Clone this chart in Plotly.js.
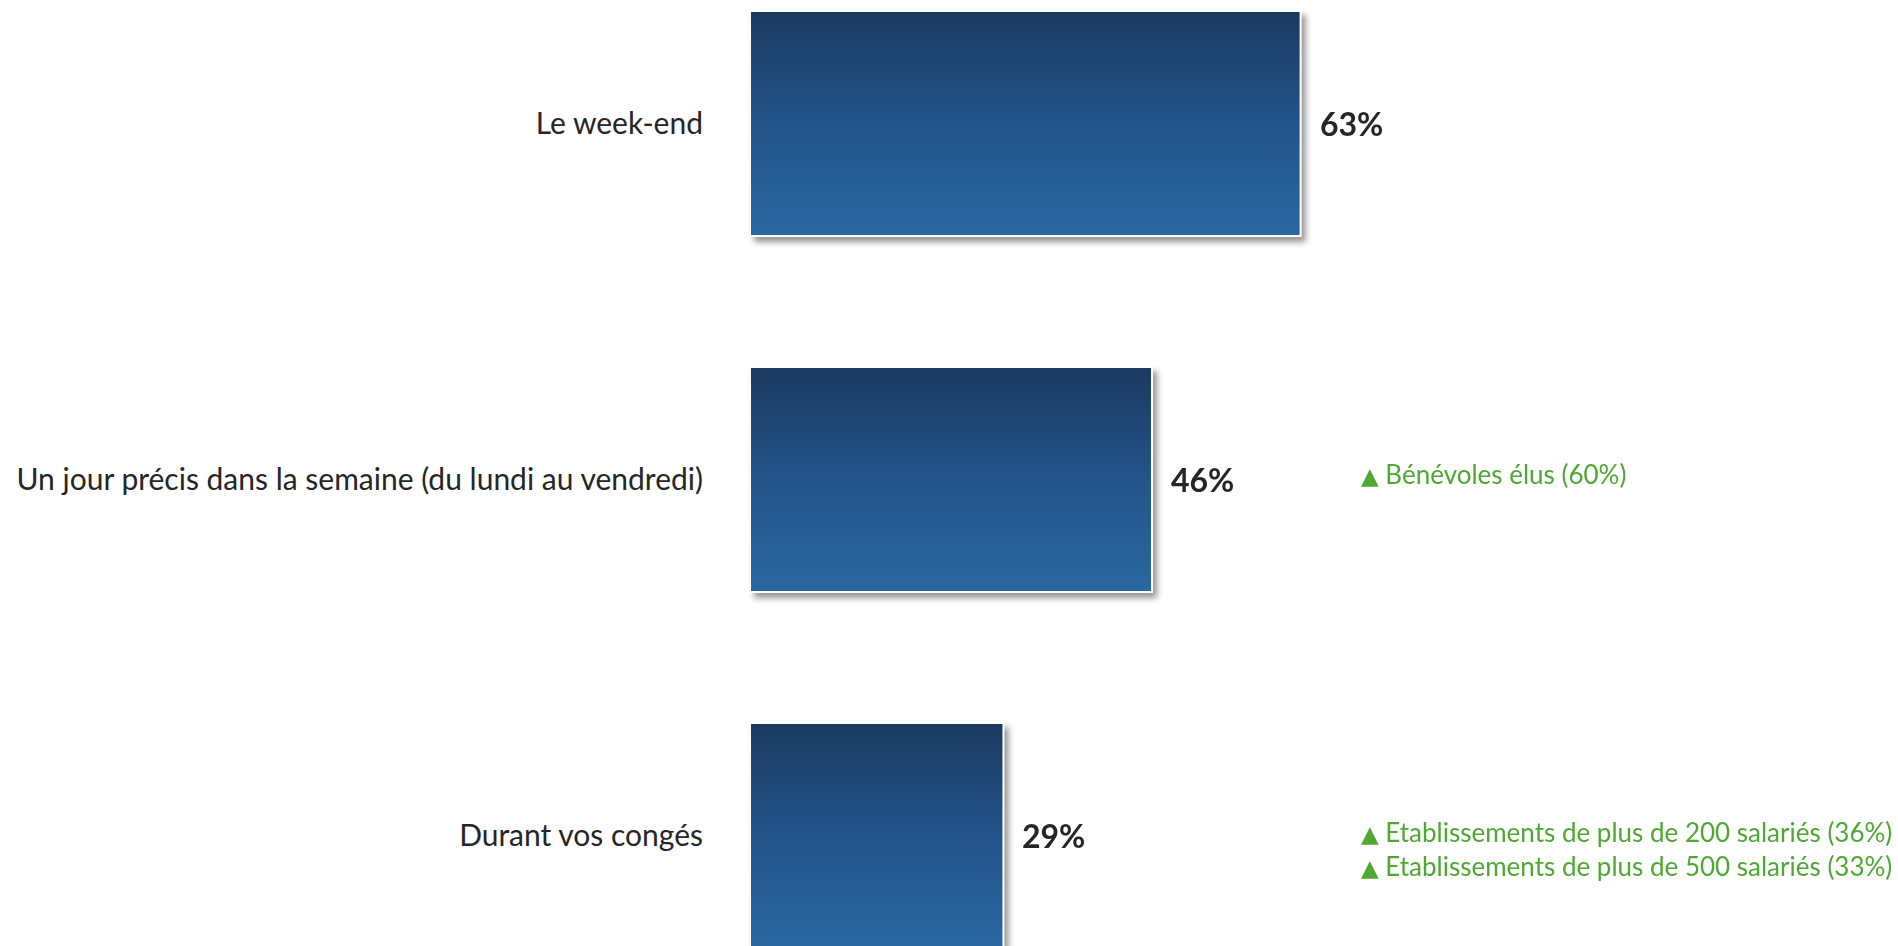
<!DOCTYPE html>
<html>
<head>
<meta charset="utf-8">
<script src="https://cdn.plot.ly/plotly-3.0.1.min.js"></script>
<style>
  html, body { margin: 0; padding: 0; background: #ffffff; }
  #chart { width: 1898px; height: 946px; }
  #chart .barlayer { filter: drop-shadow(4px 5px 3px rgba(0,0,0,0.42)); }
  #chart .barlayer .point path { fill: url(#barGrad) !important; }
</style>
</head>
<body>
<svg width="0" height="0" style="position:absolute">
  <defs>
    <linearGradient id="barGrad" x1="0" y1="0" x2="0" y2="1">
      <stop offset="0" stop-color="#1b3a60"/>
      <stop offset="0.5" stop-color="#23548a"/>
      <stop offset="1" stop-color="#2a67a1"/>
    </linearGradient>
  </defs>
</svg>
<div id="chart"></div>
<script>
// ---- data ----
const categories = [
  "Le week-end",
  "Un jour précis dans la semaine (du lundi au vendredi)",
  "Durant vos congés"
];
const values = [63, 46, 29];
const valueLabels = ["63%", "46%", "29%"];
const notes = [
  [],
  ["Bénévoles élus (60%)"],
  ["Etablissements de plus de 200 salariés (36%)", "Etablissements de plus de 500 salariés (33%)"]
];

// ---- styling ----
const FONT = "Lato, 'Open Sans', 'DejaVu Sans', sans-serif";
const NOTE_X = 0.5305;                 // paper fraction of the notes' left edge
const noteShift = [0, 6, -13];

const trace = {
  type: "bar",
  orientation: "h",
  x: values,
  y: categories,
  width: 0.632,
  marker: { color: "#23548a", line: { color: "#ffffff", width: 2 } },
  hoverinfo: "skip",
  cliponaxis: false
};

const tri = '<span style="font-size:23px;font-family:\'DejaVu Sans\'">▲</span>&nbsp;';

const annotations = [];
values.forEach((v, i) => {
  annotations.push({
    x: v, y: categories[i], xref: "x", yref: "y",
    text: "<b>" + valueLabels[i] + "</b>",
    showarrow: false, xanchor: "left", yanchor: "middle", xshift: 17, yshift: 0,
    font: { family: FONT, size: 32, color: "#262626" }
  });
  if (notes[i].length) {
    annotations.push({
      x: NOTE_X, y: categories[i], xref: "paper", yref: "y",
      text: notes[i].map(t => tri + t).join("<br>"),
      showarrow: false, xanchor: "left", yanchor: "middle", align: "left",
      yshift: noteShift[i],
      font: { family: FONT, size: 26, color: "#4fa832" }
    });
  }
});

const layout = {
  width: 1898, height: 946,
  margin: { l: 750, r: 0, t: 0, b: 0 },
  paper_bgcolor: "#ffffff", plot_bgcolor: "#ffffff",
  showlegend: false,
  bargap: 0.37,
  xaxis: { range: [0, 131.35], visible: false, fixedrange: true },
  yaxis: {
    type: "category",
    range: [2.31, -0.347],
    showgrid: false, zeroline: false, showline: false, ticks: "",
    ticklabelstandoff: 46,
    tickfont: { family: FONT, size: 30, color: "#262626" },
    fixedrange: true
  },
  annotations: annotations
};

Plotly.newPlot("chart", [trace], layout, { displayModeBar: false, staticPlot: true });
</script>
</body>
</html>
